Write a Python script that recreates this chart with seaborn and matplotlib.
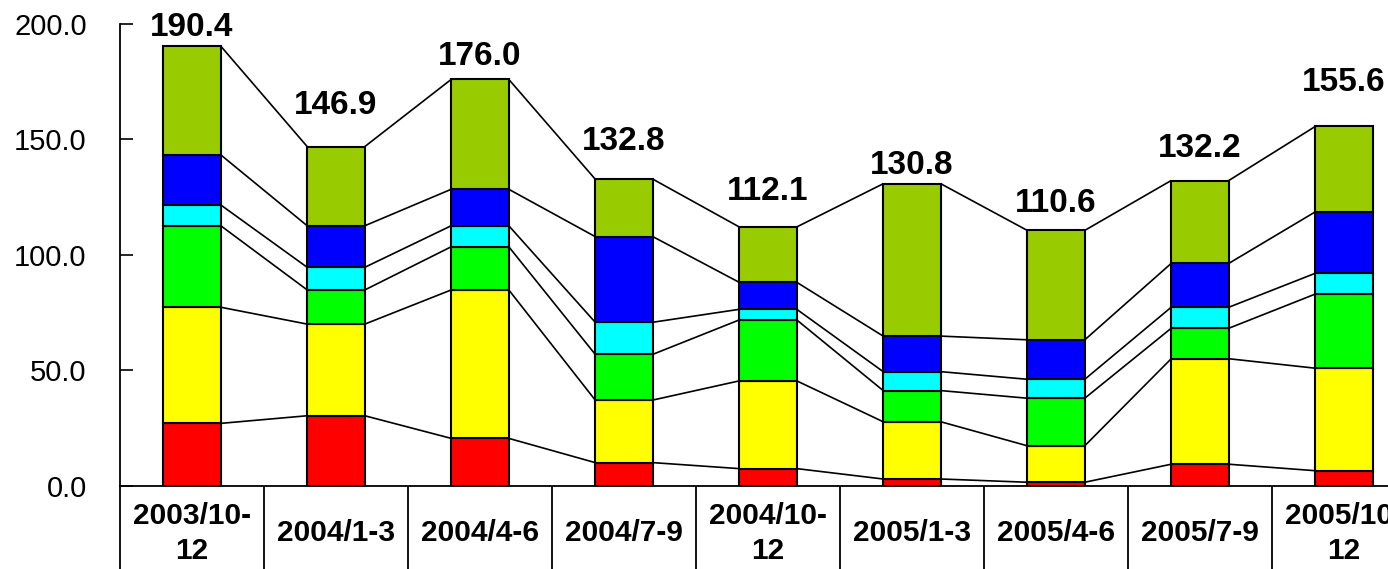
import numpy as np
import pandas as pd
import matplotlib
matplotlib.use("Agg")
import matplotlib.pyplot as plt
from matplotlib.transforms import blended_transform_factory
import seaborn as sns

# Quarterly periods
periods = ["2003/10-\n12", "2004/1-3", "2004/4-6", "2004/7-9", "2004/10-\n12",
           "2005/1-3", "2005/4-6", "2005/7-9", "2005/10-\n12"]

# Stacked components (bottom to top)
seg_red = [27.0, 30.3, 20.5, 10.0, 7.4, 2.9, 1.5, 9.3, 6.5]
seg_yellow = [50.3, 39.7, 64.3, 27.1, 38.0, 24.8, 15.8, 45.7, 44.4]
seg_green = [35.3, 14.8, 18.7, 19.8, 26.4, 13.5, 20.6, 13.2, 32.1]
seg_cyan = [9.0, 9.8, 9.1, 13.9, 4.6, 8.2, 8.2, 9.1, 9.0]
seg_blue = [21.7, 18.0, 15.8, 37.1, 11.7, 15.4, 17.1, 19.0, 26.6]
seg_olive = [47.1, 34.3, 47.6, 24.9, 24.0, 66.0, 47.4, 35.9, 37.0]

# Totals shown above each bar
totals = [190.4, 146.9, 176.0, 132.8, 112.1, 130.8, 110.6, 132.2, 155.6]

y_ticks = [0, 50, 100, 150, 200]

segments = [seg_red, seg_yellow, seg_green, seg_cyan, seg_blue, seg_olive]
colors = ["#FF0000", "#FFFF00", "#00FF00", "#00FFFF", "#0000FF", "#99CC00"]

# Height of each total label's baseline above its bar (data units)
label_lift = [4.4, 14.1, 6.2, 12.6, 11.7, 4.1, 8.0, 10.2, 15.4]

sns.set_theme(style="white")
plt.rcParams["font.family"] = ["Liberation Sans", "DejaVu Sans"]
plt.rcParams["text.color"] = "black"

W, H = 1388, 569
fig = plt.figure(figsize=(W / 100, H / 100), dpi=100)
ax = fig.add_axes([120 / W, 83.3 / H, 1296 / W, 461.7 / H])

bar_w = 0.40
bottom = np.zeros(len(periods))
for seg, col in zip(segments, colors):
    df = pd.DataFrame({"period": periods, "value": seg})
    sns.barplot(data=df, x="period", y="value", order=periods, color=col,
                saturation=1, width=bar_w, errorbar=None, bottom=bottom,
                edgecolor="black", linewidth=1.5, ax=ax, zorder=3)
    bottom = bottom + np.array(seg)

# Connector lines between matching segment boundaries of adjacent bars
cum = np.cumsum(np.array(segments), axis=0)
for level in cum:
    for i in range(len(periods) - 1):
        ax.plot([i + bar_w / 2, i + 1 - bar_w / 2], [level[i], level[i + 1]],
                color="black", lw=1.2, zorder=2, solid_capstyle="butt")

# Total labels
for i, t in enumerate(totals):
    ax.text(i, t + label_lift[i], f"{t:.1f}", ha="center", va="baseline",
            fontsize=24, fontweight="bold", color="black", clip_on=False)

ax.set_xlim(-0.5, len(periods) - 0.5)
ax.set_ylim(0, 200)
ax.set_yticks(y_ticks)
ax.set_yticklabels([f"{v:.1f}" for v in y_ticks], fontsize=21)
ax.tick_params(axis="y", direction="in", length=9, width=1.2, pad=24,
               left=True, colors="black")

# Category labels below the axis, separated by long dividers
ax.set_xticks(range(len(periods)))
ax.set_xticklabels([])
ax.tick_params(axis="x", which="major", length=0)
ax.set_xticks(np.arange(len(periods) + 1) - 0.5, minor=True)
ax.tick_params(axis="x", which="minor", direction="out", length=70,
               width=1.3, bottom=True, color="black")
trans = blended_transform_factory(ax.transData, ax.transAxes)
for i, lab in enumerate(periods):
    ax.text(i, -0.103, lab, transform=trans, ha="center", va="center",
            multialignment="center", fontsize=21.5, fontweight="bold",
            linespacing=1.3, color="black", clip_on=False)

ax.set_xlabel("")
ax.set_ylabel("")
for side in ["top", "right"]:
    ax.spines[side].set_visible(False)
for side in ["left", "bottom"]:
    ax.spines[side].set_color("black")
    ax.spines[side].set_linewidth(1.3)
ax.grid(False)

fig.savefig("out.png", dpi=100)
